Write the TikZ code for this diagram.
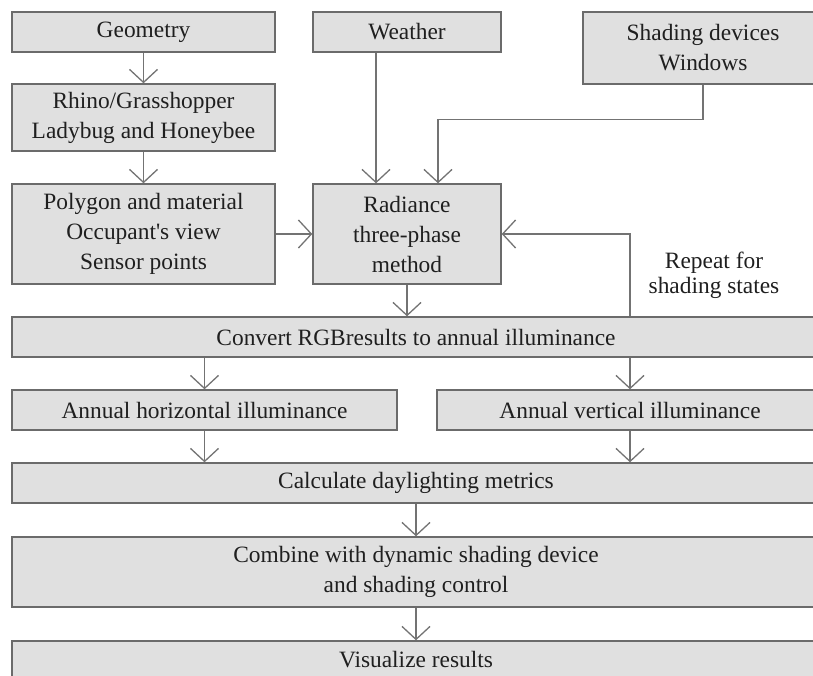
\documentclass[tikz,border=0pt]{standalone}
\usepackage{fontspec}
\setmainfont{Liberation Serif}[Ligatures=TeXOff]
\usetikzlibrary{arrows.meta}
\definecolor{boxfill}{gray}{0.88}
\definecolor{boxline}{gray}{0.42}
\definecolor{linec}{gray}{0.45}
\definecolor{textc}{gray}{0.12}
\begin{document}
\begin{tikzpicture}[x=1pt,y=-1pt,
 box/.style={draw=boxline, fill=boxfill, line width=1.4pt, inner sep=0pt, align=center,
   font=\fontsize{23.4}{30}\selectfont, text=textc},
 lbl/.style={inner sep=0pt, align=center, font=\fontsize{23.4}{25}\selectfont, text=textc},
 conn/.style={draw=linec, line width=1.3pt,
   -{Straight Barb[length=13pt,width=28pt,line width=1.3pt]}}]
\useasboundingbox (0,0) rectangle (813,675);
\clip (0,0) rectangle (813,675);
\node[box, minimum width=263pt, minimum height=40pt] (geo) at (143.5,32) {Geometry};
\node[box, minimum width=188pt, minimum height=40pt] (weather) at (407,32) {Weather};
\node[box, minimum width=240pt, minimum height=72pt] (shade) at (703,48) {Shading devices\\Windows};
\node[box, minimum width=263pt, minimum height=67pt] (rhino) at (143.5,117.5) {Rhino/Grasshopper\\Ladybug and Honeybee};
\node[box, minimum width=263pt, minimum height=100pt] (poly) at (143.5,234) {Polygon and material\\Occupant's view\\Sensor points};
\node[box, minimum width=188pt, minimum height=100pt] (rad) at (407,234) {Radiance\\three-phase\\method};
\node[box, minimum width=808pt, minimum height=40pt] (conv) at (416,337) {Convert RGBresults to annual illuminance};
\node[box, minimum width=385pt, minimum height=40pt] (horiz) at (204.5,410) {Annual horizontal illuminance};
\node[box, minimum width=386pt, minimum height=40pt] (vert) at (630,410) {Annual vertical illuminance};
\node[box, minimum width=808pt, minimum height=40pt] (calc) at (416,483) {Calculate daylighting metrics};
\node[box, minimum width=808pt, minimum height=70pt] (comb) at (416,572) {Combine with dynamic shading device\\and shading control};
\node[box, minimum width=808pt, minimum height=38pt] (vis) at (416,660) {Visualize results};
\node[lbl] (rep) at (714,275) {Repeat for\\shading states};

\draw[conn] (geo.south) -- (rhino.north);
\draw[conn] (rhino.south) -- (poly.north);
\draw[conn] ([xshift=-31pt]weather.south) -- ([xshift=-31pt]rad.north);
\draw[conn] (shade.south) -- ++(0,35) -| ([xshift=31pt]rad.north);
\draw[conn] (poly.east) -- (rad.west);
\draw[conn] ([xshift=214pt]conv.north) |- (rad.east);
\draw[conn] (rad.south) -- (rad.south |- conv.north);
\draw[conn] (horiz.north |- conv.south) -- (horiz.north);
\draw[conn] (vert.north |- conv.south) -- (vert.north);
\draw[conn] (horiz.south) -- (horiz.south |- calc.north);
\draw[conn] (vert.south) -- (vert.south |- calc.north);
\draw[conn] (calc.south) -- (comb.north);
\draw[conn] (comb.south) -- (vis.north);
\end{tikzpicture}
\end{document}
